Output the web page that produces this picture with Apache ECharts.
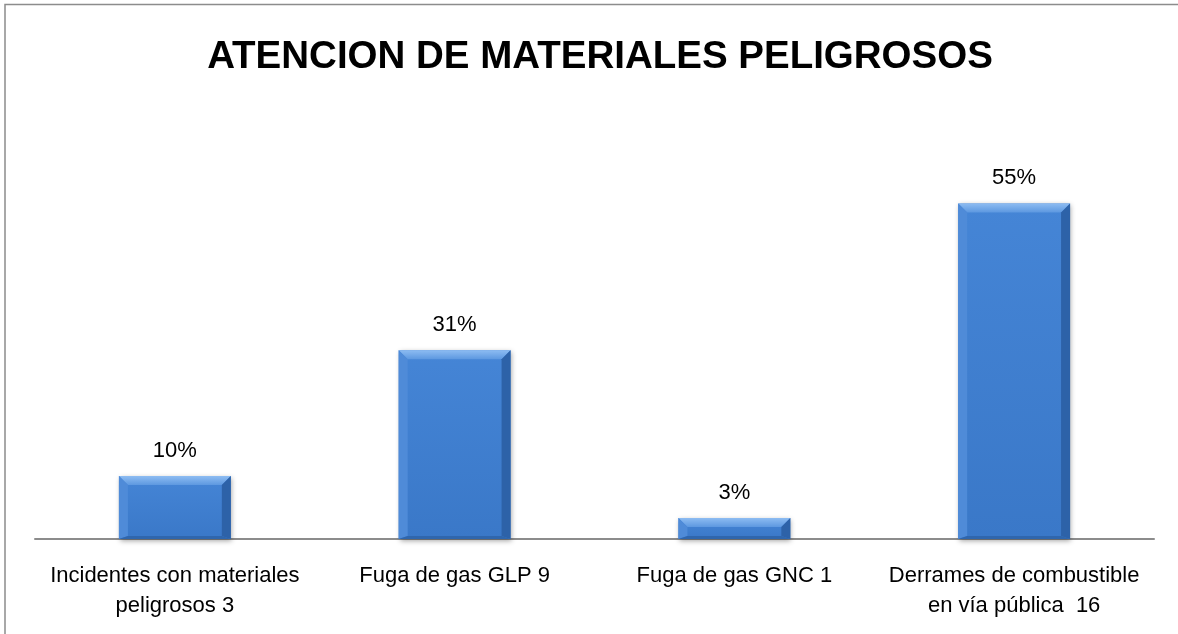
<!DOCTYPE html>
<html>
<head>
<meta charset="utf-8">
<script src="https://cdn.jsdelivr.net/npm/echarts@6/dist/echarts.min.js"></script>
<style>
  html, body { margin: 0; padding: 0; background: #fff; }
  #chart { width: 1178px; height: 634px; }
</style>
</head>
<body>
<div id="chart"></div>
<script>
// categories and values (share of 29 attended incidents)
const categories = [
  "Incidentes con materiales\npeligrosos 3",
  "Fuga de gas GLP 9",
  "Fuga de gas GNC 1",
  "Derrames de combustible\nen vía pública  16"
];
const percents = [10.34, 31.03, 3.45, 55.17];
const titleText = "ATENCION DE MATERIALES PELIGROSOS";

const myChart = echarts.init(document.getElementById("chart"));

// bevel overlay drawn on top of each bar
function renderBevel(params, api) {
  const idx = api.value(0);
  const top = api.coord([idx, api.value(1)]);
  const base = api.coord([idx, 0]);
  const w = api.size([1, 0])[0] * 0.4;
  const x0 = top[0] - w / 2, x1 = top[0] + w / 2;
  const y0 = top[1], y1 = base[1];
  const b = Math.min(9, (y1 - y0) / 2);
  return {
    type: "group",
    children: [
      { type: "polygon", shape: { points: [[x0, y0], [x1, y0], [x1 - b, y0 + b], [x0 + b, y0 + b]] },
        style: { fill: new echarts.graphic.LinearGradient(0, 0, 0, 1, [
          { offset: 0, color: "#8dbcf2" }, { offset: 1, color: "#5d98e0" }]) } },
      { type: "polygon", shape: { points: [[x0, y0], [x0 + b, y0 + b], [x0 + b, y1 - 3], [x0, y1]] },
        style: { fill: "#4f8bd8" } },
      { type: "polygon", shape: { points: [[x1, y0], [x1 - b, y0 + b], [x1 - b, y1 - 3], [x1, y1]] },
        style: { fill: "#2d62a8" } },
      { type: "polygon", shape: { points: [[x0, y1], [x0 + b, y1 - 3], [x1 - b, y1 - 3], [x1, y1]] },
        style: { fill: "#2f66ad" } }
    ]
  };
}

myChart.setOption({
  animation: false,
  title: {
    text: titleText,
    left: 595,
    top: 33,
    textAlign: "center",
    textStyle: {
      fontFamily: "Liberation Sans",
      fontWeight: "bold",
      fontSize: 38.5,
      color: "#000"
    }
  },
  graphic: [
    {
      type: "polyline",
      shape: { points: [[5, 640], [5, 4.5], [1180, 4.5]] },
      style: { stroke: "#8c8c8c", lineWidth: 1.5, fill: null },
      silent: true
    }
  ],
  grid: { left: 35, right: 24, top: 174, bottom: 95 },
  xAxis: {
    type: "category",
    data: categories,
    axisLine: { show: true, lineStyle: { color: "#8c8c8c", width: 2 } },
    axisTick: { show: false },
    axisLabel: {
      interval: 0,
      margin: 22,
      color: "#000",
      fontFamily: "Liberation Sans",
      fontSize: 22,
      lineHeight: 30
    }
  },
  yAxis: {
    type: "value",
    min: 0,
    max: 60,
    interval: 10,
    show: false,
    splitLine: { show: false }
  },
  series: [
    {
      type: "bar",
      data: percents,
      barWidth: "40%",
      itemStyle: {
        color: new echarts.graphic.LinearGradient(0, 0, 0, 1, [
          { offset: 0, color: "#4585d6" },
          { offset: 1, color: "#3a78c8" }
        ]),
        shadowColor: "rgba(0,0,0,0.35)",
        shadowBlur: 5,
        shadowOffsetX: 1,
        shadowOffsetY: 2
      },
      label: {
        show: true,
        position: "top",
        distance: 14,
        color: "#000",
        fontFamily: "Liberation Sans",
        fontSize: 22,
        formatter: p => Math.round(p.value) + "%"
      }
    },
    {
      type: "custom",
      renderItem: renderBevel,
      data: percents.map((v, i) => [i, v]),
      encode: { x: 0, y: 1 },
      silent: true,
      z: 3
    }
  ]
});

window.addEventListener("resize", () => {
  myChart.resize();
});
</script>
</body>
</html>
